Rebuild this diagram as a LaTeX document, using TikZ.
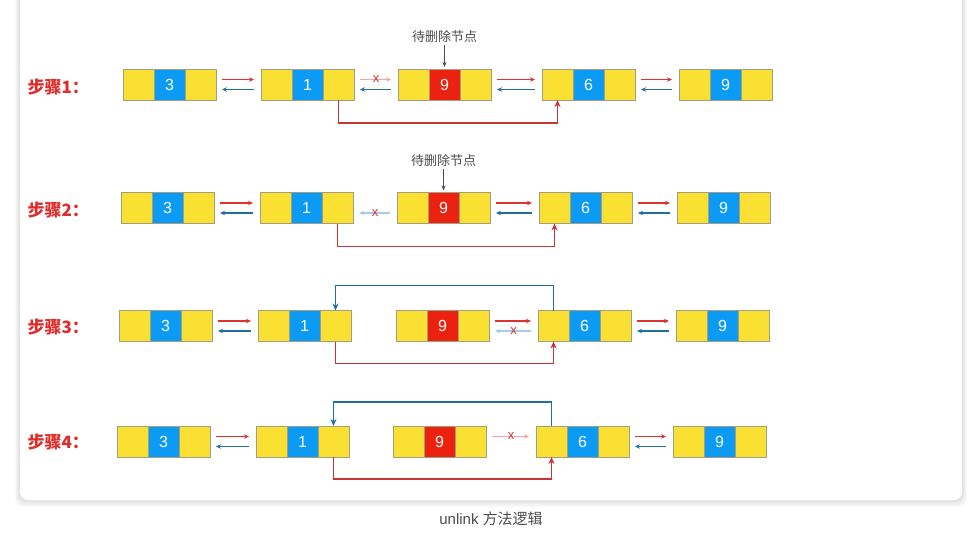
\documentclass[tikz,border=0pt]{standalone}
\usepackage{fontspec}
\setmainfont{Liberation Sans}
\newfontfamily\cjk{Noto Sans CJK SC}
\usetikzlibrary{positioning}
\usetikzlibrary{arrows.meta}

\definecolor{cellyellow}{HTML}{F9E032}
\definecolor{cellblue}{HTML}{0C9BF4}
\definecolor{cellred}{HTML}{EB220F}
\definecolor{cellborder}{HTML}{A39E82}
\definecolor{arrowred}{HTML}{DE3131}
\definecolor{arrowblue}{HTML}{1F6EA8}
\definecolor{palered}{HTML}{F2A5A5}
\definecolor{paleblue}{HTML}{A8CCE3}
\definecolor{linkred}{HTML}{C93535}
\definecolor{steplabel}{HTML}{E02B2B}

\tikzset{
  cell/.style={draw=cellborder,line width=0.8pt,minimum width=31pt,minimum height=31pt,
    inner sep=0pt,outer sep=0pt,text=white,font=\fontsize{16}{16}\selectfont},
  nextarrow/.style={draw=arrowred,line width=1.4pt,-{Stealth[length=5pt,width=4.5pt]},shorten <=6pt,shorten >=7pt},
  prevarrow/.style={draw=arrowblue,line width=1.4pt,-{Stealth[length=5pt,width=4.5pt]},shorten <=7pt,shorten >=6pt},
  cutnext/.style={nextarrow,draw=palered},
  cutprev/.style={prevarrow,draw=paleblue},
  cross/.style={text=arrowred,inner sep=0pt,font=\fontsize{13}{13}\selectfont},
  bypass/.style={line width=1.6pt,-{Stealth[length=7pt,width=6pt]}},
  steptext/.style={anchor=west,text=steplabel,font=\cjk\bfseries\fontsize{17}{17}\selectfont},
  deltext/.style={text=black!70,font=\cjk\fontsize{13}{13}\selectfont,inner sep=2pt}
}

% one list node: name, x, y, value, colour of the middle cell
\newcommand{\listnode}[5]{%
  \node[cell,fill=cellyellow] (#1-l) at (#2,#3) {};
  \node[cell,fill=#5,right=0pt of #1-l] (#1-c) {#4};
  \node[cell,fill=cellyellow,right=0pt of #1-c] (#1-r) {};
}

\begin{document}
\begin{tikzpicture}[x=1pt,y=-1pt]
  \useasboundingbox (0,0) rectangle (970,539);
  \fill[white] (0,0) rectangle (970,539);

  % card
  \foreach \s in {1,...,5}
    \fill[black,opacity=0.025,rounded corners=8pt] (20-\s,-10) rectangle (962+\s,500+\s*1.4);
  \fill[white,rounded corners=8pt] (20,-10) rectangle (962,500);

  % step 1
  \node[steptext] (s1) at (24,87) {步骤1：};
  \listnode{r1a}{138.5}{84.5}{3}{cellblue}
  \listnode{r1b}{276.5}{84.5}{1}{cellblue}
  \listnode{r1c}{413.5}{84.5}{9}{cellred}
  \listnode{r1d}{557.5}{84.5}{6}{cellblue}
  \listnode{r1e}{694.5}{84.5}{9}{cellblue}
  \node[deltext,above=24pt of r1c-c] (del1) {待删除节点};
  \draw[black!70,line width=0.9pt,-{Stealth[length=5pt,width=4pt]},shorten >=2pt] (del1) -- (r1c-c.north);

  \draw[nextarrow] ([yshift=5pt]r1a-r.east) -- ([yshift=5pt]r1b-l.west);
  \draw[prevarrow] ([yshift=-5pt]r1b-l.west) -- ([yshift=-5pt]r1a-r.east);
  \draw[cutnext] ([yshift=5pt]r1b-r.east) -- node[cross]{x} ([yshift=5pt]r1c-l.west);
  \draw[prevarrow] ([yshift=-5pt]r1c-l.west) -- ([yshift=-5pt]r1b-r.east);
  \draw[nextarrow] ([yshift=5pt]r1c-r.east) -- ([yshift=5pt]r1d-l.west);
  \draw[prevarrow] ([yshift=-5pt]r1d-l.west) -- ([yshift=-5pt]r1c-r.east);
  \draw[nextarrow] ([yshift=5pt]r1d-r.east) -- ([yshift=5pt]r1e-l.west);
  \draw[prevarrow] ([yshift=-5pt]r1e-l.west) -- ([yshift=-5pt]r1d-r.east);
  \draw[bypass,draw=linkred] (r1b-r.south) -- ++(0,23) -| (r1d-l.south);

  % step 2
  \node[steptext] (s2) at (24,210) {步骤2：};
  \listnode{r2a}{136.5}{208}{3}{cellblue}
  \listnode{r2b}{275.5}{208}{1}{cellblue}
  \listnode{r2c}{412.5}{208}{9}{cellred}
  \listnode{r2d}{554.5}{208}{6}{cellblue}
  \listnode{r2e}{692.5}{208}{9}{cellblue}
  \node[deltext,above=24pt of r2c-c] (del2) {待删除节点};
  \draw[black!70,line width=0.9pt,-{Stealth[length=5pt,width=4pt]},shorten >=2pt] (del2) -- (r2c-c.north);

  \draw[nextarrow] ([yshift=5pt]r2a-r.east) -- ([yshift=5pt]r2b-l.west);
  \draw[prevarrow] ([yshift=-5pt]r2b-l.west) -- ([yshift=-5pt]r2a-r.east);
  \draw[cutprev] ([yshift=-5pt]r2c-l.west) -- node[cross]{x} ([yshift=-5pt]r2b-r.east);
  \draw[nextarrow] ([yshift=5pt]r2c-r.east) -- ([yshift=5pt]r2d-l.west);
  \draw[prevarrow] ([yshift=-5pt]r2d-l.west) -- ([yshift=-5pt]r2c-r.east);
  \draw[nextarrow] ([yshift=5pt]r2d-r.east) -- ([yshift=5pt]r2e-l.west);
  \draw[prevarrow] ([yshift=-5pt]r2e-l.west) -- ([yshift=-5pt]r2d-r.east);
  \draw[bypass,draw=linkred] (r2b-r.south) -- ++(0,23) -| (r2d-l.south);

  % step 3
  \node[steptext] (s3) at (24,327) {步骤3：};
  \listnode{r3a}{134.5}{326}{3}{cellblue}
  \listnode{r3b}{273.5}{326}{1}{cellblue}
  \listnode{r3c}{411.5}{326}{9}{cellred}
  \listnode{r3d}{553.5}{326}{6}{cellblue}
  \listnode{r3e}{691.5}{326}{9}{cellblue}

  \draw[nextarrow] ([yshift=5pt]r3a-r.east) -- ([yshift=5pt]r3b-l.west);
  \draw[prevarrow] ([yshift=-5pt]r3b-l.west) -- ([yshift=-5pt]r3a-r.east);
  \draw[nextarrow] ([yshift=5pt]r3c-r.east) -- ([yshift=5pt]r3d-l.west);
  \draw[cutprev] ([yshift=-5pt]r3d-l.west) -- node[cross]{x} ([yshift=-5pt]r3c-r.east);
  \draw[nextarrow] ([yshift=5pt]r3d-r.east) -- ([yshift=5pt]r3e-l.west);
  \draw[prevarrow] ([yshift=-5pt]r3e-l.west) -- ([yshift=-5pt]r3d-r.east);
  \draw[bypass,draw=linkred] (r3b-r.south) -- ++(0,22) -| (r3d-l.south);
  \draw[bypass,draw=arrowblue] (r3d-l.north) -- ++(0,-25) -| (r3b-r.north);

  % step 4
  \node[steptext] (s4) at (24,442) {步骤4：};
  \listnode{r4a}{132.5}{441.5}{3}{cellblue}
  \listnode{r4b}{271.5}{441.5}{1}{cellblue}
  \listnode{r4c}{408.5}{441.5}{9}{cellred}
  \listnode{r4d}{551.5}{441.5}{6}{cellblue}
  \listnode{r4e}{688.5}{441.5}{9}{cellblue}

  \draw[nextarrow] ([yshift=5pt]r4a-r.east) -- ([yshift=5pt]r4b-l.west);
  \draw[prevarrow] ([yshift=-5pt]r4b-l.west) -- ([yshift=-5pt]r4a-r.east);
  \draw[cutnext] ([yshift=5pt]r4c-r.east) -- node[cross]{x} ([yshift=5pt]r4d-l.west);
  \draw[nextarrow] ([yshift=5pt]r4d-r.east) -- ([yshift=5pt]r4e-l.west);
  \draw[prevarrow] ([yshift=-5pt]r4e-l.west) -- ([yshift=-5pt]r4d-r.east);
  \draw[bypass,draw=linkred] (r4b-r.south) -- ++(0,22) -| (r4d-l.south);
  \draw[bypass,draw=arrowblue] (r4d-l.north) -- ++(0,-24) -| (r4b-r.north);

  % caption
  \node[text=black!70,font=\fontsize{15}{15}\selectfont] (cap) at (491,519) {unlink {\cjk 方法逻辑}};
\end{tikzpicture}
\end{document}
